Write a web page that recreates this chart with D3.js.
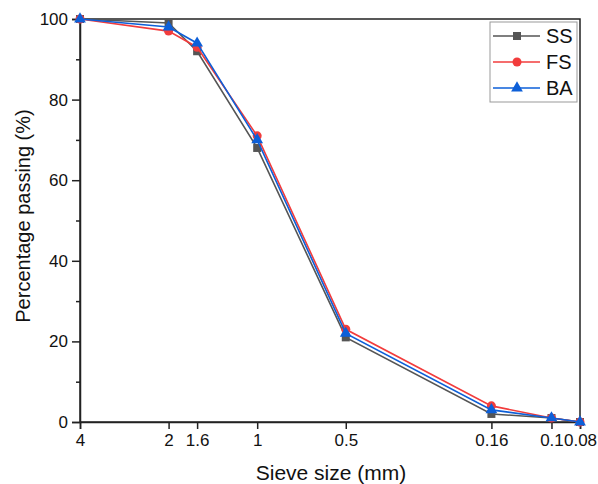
<!DOCTYPE html>
<html>
<head>
<meta charset="utf-8">
<script src="https://cdn.jsdelivr.net/npm/d3@7"></script>
<style>
  body { margin: 0; background: #fff; }
  text { font-family: "Liberation Sans", Arial, sans-serif; }
</style>
</head>
<body>
<div id="chart"></div>
<script>
// sieve sizes (mm) and percentage passing for each material
const sieveSizes = [4, 2, 1.6, 1, 0.5, 0.16, 0.1, 0.08];
const tickLabels = ["4", "2", "1.6", "1", "0.5", "0.16", "0.1", "0.08"];
const ssValues = [100, 99, 92, 68, 21, 2, 1, 0];
const fsValues = [100, 97, 93, 71, 23, 4, 1, 0];
const baValues = [100, 98, 94, 70, 22, 3, 1, 0];
const seriesNames = ["SS", "FS", "BA"];

const width = 598, height = 484;
const margin = { top: 19, right: 18, bottom: 62, left: 80 };

const svg = d3.select("#chart").append("svg")
  .attr("width", width)
  .attr("height", height);

const x = d3.scaleLog()
  .domain([4, 0.08])
  .range([margin.left, width - margin.right]);

const y = d3.scaleLinear()
  .domain([0, 100])
  .range([height - margin.bottom, margin.top]);

const series = [
  { name: "SS", values: ssValues, color: "#555555", shape: d3.symbolSquare, size: 64 },
  { name: "FS", values: fsValues, color: "#f23c3c", shape: d3.symbolCircle, size: 64 },
  { name: "BA", values: baValues, color: "#0d5fd8", shape: d3.symbolTriangle, size: 60 }
];

// frame
svg.append("rect")
  .attr("x", margin.left)
  .attr("y", margin.top)
  .attr("width", width - margin.left - margin.right)
  .attr("height", height - margin.top - margin.bottom)
  .attr("fill", "none")
  .attr("stroke", "#222")
  .attr("stroke-width", 1.5);

// x axis
const xAxis = svg.append("g")
  .attr("transform", `translate(0,${height - margin.bottom})`)
  .call(d3.axisBottom(x)
    .tickValues(sieveSizes)
    .tickFormat((d, i) => tickLabels[i])
    .tickSize(7)
    .tickPadding(5));
xAxis.select(".domain").attr("stroke", "#222").attr("stroke-width", 1.5);
xAxis.selectAll(".tick line").attr("stroke", "#222").attr("stroke-width", 1.5);
xAxis.selectAll(".tick text").attr("font-size", 17).attr("fill", "#111");

// y axis with minor ticks
const yMinor = svg.append("g")
  .attr("transform", `translate(${margin.left},0)`)
  .call(d3.axisLeft(y).tickValues([10, 30, 50, 70, 90]).tickSize(4).tickFormat(""));
yMinor.select(".domain").remove();
yMinor.selectAll(".tick line").attr("stroke", "#222").attr("stroke-width", 1.5);

const yAxis = svg.append("g")
  .attr("transform", `translate(${margin.left},0)`)
  .call(d3.axisLeft(y).tickValues([0, 20, 40, 60, 80, 100]).tickSize(8).tickPadding(4));
yAxis.select(".domain").attr("stroke", "#222").attr("stroke-width", 1.5);
yAxis.selectAll(".tick line").attr("stroke", "#222").attr("stroke-width", 1.5);
yAxis.selectAll(".tick text").attr("font-size", 17).attr("fill", "#111");

// axis titles
svg.append("text")
  .attr("x", 331)
  .attr("y", 480)
  .attr("text-anchor", "middle")
  .attr("font-size", 21)
  .attr("fill", "#111")
  .text("Sieve size (mm)");

svg.append("text")
  .attr("transform", "translate(30,216) rotate(-90)")
  .attr("text-anchor", "middle")
  .attr("font-size", 20)
  .attr("fill", "#111")
  .text("Percentage passing (%)");

// lines and markers
const line = d3.line()
  .x((d, i) => x(sieveSizes[i]))
  .y(d => y(d));

series.forEach(s => {
  const g = svg.append("g");
  g.append("path")
    .datum(s.values)
    .attr("d", line)
    .attr("fill", "none")
    .attr("stroke", s.color)
    .attr("stroke-width", 1.6);
  g.selectAll("path.mark")
    .data(s.values)
    .enter().append("path")
    .attr("class", "mark")
    .attr("d", d3.symbol().type(s.shape).size(s.size))
    .attr("transform", (d, i) => `translate(${x(sieveSizes[i])},${y(d)})`)
    .attr("fill", s.color);
});

// legend
const legend = svg.append("g").attr("transform", "translate(490,22)");
legend.append("rect")
  .attr("width", 87)
  .attr("height", 80)
  .attr("fill", "#fff")
  .attr("stroke", "#999")
  .attr("stroke-width", 1);

series.forEach((s, i) => {
  const row = legend.append("g").attr("transform", `translate(0,${14 + i * 26})`);
  row.append("line")
    .attr("x1", 3).attr("x2", 50)
    .attr("stroke", s.color)
    .attr("stroke-width", 1.6);
  row.append("path")
    .attr("d", d3.symbol().type(s.shape).size(s.size))
    .attr("transform", "translate(27,0)")
    .attr("fill", s.color);
  row.append("text")
    .attr("x", 56)
    .attr("y", 7)
    .attr("font-size", 20)
    .attr("fill", "#111")
    .text(seriesNames[i]);
});
</script>
</body>
</html>
